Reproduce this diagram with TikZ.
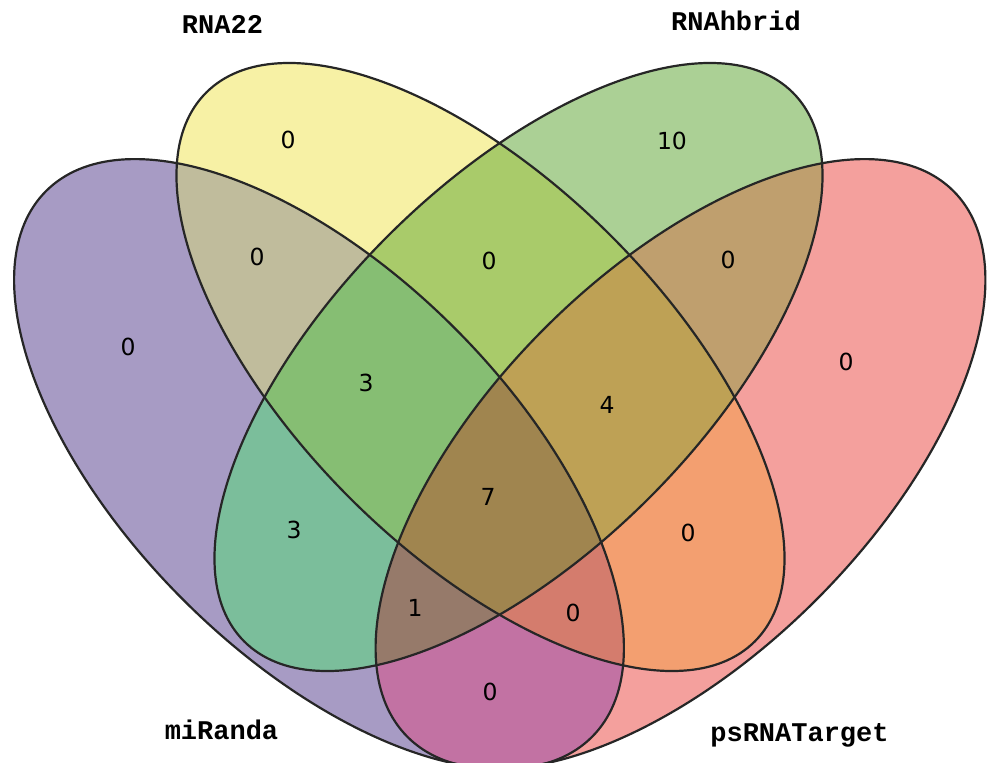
\documentclass[tikz,border=0pt]{standalone}
\usepackage{fontspec}
\newfontfamily\labfont{Liberation Mono}
\newfontfamily\numfont{DejaVu Sans}
\definecolor{cA}{HTML}{A79BC4}
\definecolor{cB}{HTML}{F7F1A5}
\definecolor{cC}{HTML}{ABD095}
\definecolor{cD}{HTML}{F4A09D}
\definecolor{cAB}{HTML}{C0BC9C}
\definecolor{cAC}{HTML}{7BBE9B}
\definecolor{cAD}{HTML}{C272A3}
\definecolor{cBC}{HTML}{A9CB6A}
\definecolor{cBD}{HTML}{F39F70}
\definecolor{cCD}{HTML}{BF9F6E}
\definecolor{cABC}{HTML}{86BE73}
\definecolor{cABD}{HTML}{D47C6D}
\definecolor{cACD}{HTML}{967A6A}
\definecolor{cBCD}{HTML}{BEA155}
\definecolor{cABCD}{HTML}{A0854F}
\definecolor{edge}{HTML}{262626}
\newcommand\pathA{(319,464) ellipse [x radius=386pt, y radius=192pt]}
\newcommand\pathB{(480.5,367) ellipse [x radius=388pt, y radius=185pt]}
\newcommand\pathC{(518.5,367) ellipse [x radius=388pt, y radius=185pt]}
\newcommand\pathD{(680.5,464) ellipse [x radius=386pt, y radius=192pt]}
\tikzset{
  eA/.style={rotate around={-45:(319,464)}},
  eB/.style={rotate around={-45:(480.5,367)}},
  eC/.style={rotate around={45:(518.5,367)}},
  eD/.style={rotate around={45:(680.5,464)}},
  outline/.style={draw=edge, line width=2.2pt},
  lab/.style={anchor=base, inner sep=0pt, text=black,
    font=\labfont\bfseries\fontsize{27}{27}\selectfont},
  num/.style={inner sep=0pt, text=black,
    font=\numfont\fontsize{23.5}{23.5}\selectfont},
}
\begin{document}
\begin{tikzpicture}[x=1pt, y=-1pt]
\useasboundingbox (0,0) rectangle (989,763);
\fill[white] (0,0) rectangle (989,763);
\clip (0,0) rectangle (989,763);
% single sets
\fill[cA, eA] \pathA;
\fill[cB, eB] \pathB;
\fill[cC, eC] \pathC;
\fill[cD, eD] \pathD;
% pairs
\begin{scope}\clip[eA] \pathA; \fill[cAB, eB] \pathB;\end{scope}
\begin{scope}\clip[eA] \pathA; \fill[cAC, eC] \pathC;\end{scope}
\begin{scope}\clip[eA] \pathA; \fill[cAD, eD] \pathD;\end{scope}
\begin{scope}\clip[eB] \pathB; \fill[cBC, eC] \pathC;\end{scope}
\begin{scope}\clip[eB] \pathB; \fill[cBD, eD] \pathD;\end{scope}
\begin{scope}\clip[eC] \pathC; \fill[cCD, eD] \pathD;\end{scope}
% triples
\begin{scope}\clip[eA] \pathA; \clip[eB] \pathB; \fill[cABC, eC] \pathC;\end{scope}
\begin{scope}\clip[eA] \pathA; \clip[eB] \pathB; \fill[cABD, eD] \pathD;\end{scope}
\begin{scope}\clip[eA] \pathA; \clip[eC] \pathC; \fill[cACD, eD] \pathD;\end{scope}
\begin{scope}\clip[eB] \pathB; \clip[eC] \pathC; \fill[cBCD, eD] \pathD;\end{scope}
% all four
\begin{scope}\clip[eA] \pathA; \clip[eB] \pathB; \clip[eC] \pathC; \fill[cABCD, eD] \pathD;\end{scope}
% outlines
\draw[outline, eA] \pathA;
\draw[outline, eB] \pathB;
\draw[outline, eC] \pathC;
\draw[outline, eD] \pathD;
% set labels
\node[lab] (labB) at (222.5,33.5) {RNA22};
\node[lab] (labC) at (736,30) {RNAhbrid};
\node[lab] (labA) at (221.5,739) {miRanda};
\node[lab] (labD) at (799.5,741) {psRNATarget};
% region counts
\node[num] (nA) at (128,347) {0};
\node[num] (nB) at (288,140) {0};
\node[num] (nC) at (672,141) {10};
\node[num] (nD) at (846,362) {0};
\node[num] (nAB) at (257,257) {0};
\node[num] (nBC) at (489,261) {0};
\node[num] (nCD) at (728,260) {0};
\node[num] (nABC) at (366,383) {3};
\node[num] (nBCD) at (607,405) {4};
\node[num] (nABCD) at (488,497) {7};
\node[num] (nAC) at (294,530) {3};
\node[num] (nBD) at (688,533) {0};
\node[num] (nACD) at (415,608) {1};
\node[num] (nABD) at (573,613) {0};
\node[num] (nAD) at (490,692) {0};
\end{tikzpicture}
\end{document}
